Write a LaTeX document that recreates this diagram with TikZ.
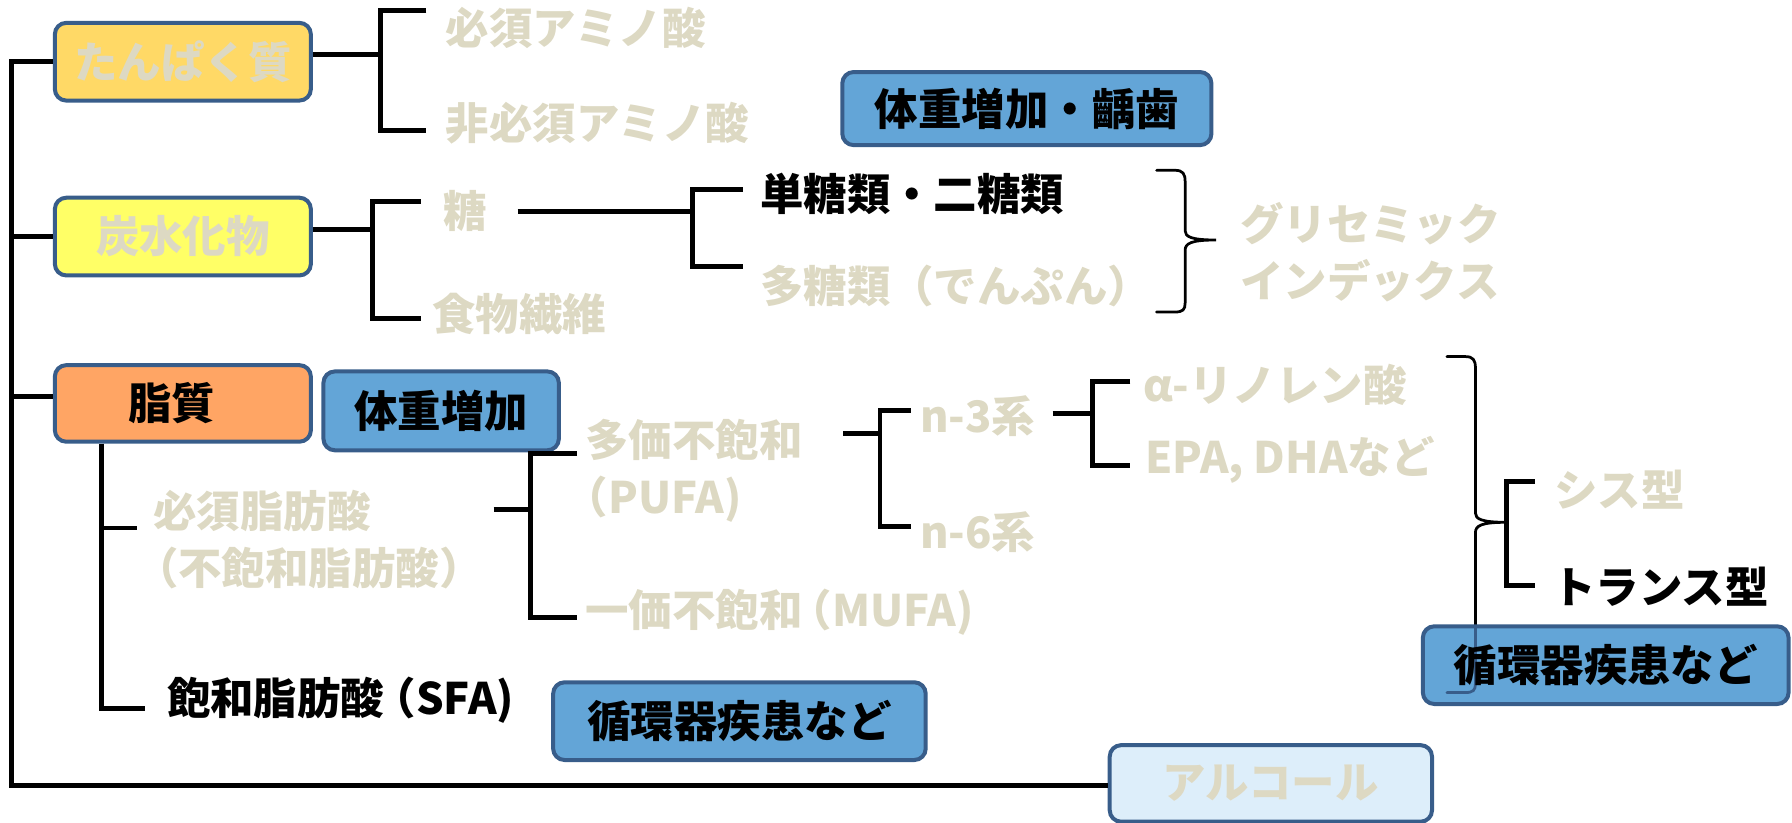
\documentclass[tikz,border=0pt]{standalone}
\usepackage{fontspec}
\setmainfont{Noto Sans CJK JP}
\definecolor{greytxt}{RGB}{221,217,195}
\definecolor{tanfill}{RGB}{255,217,102}
\definecolor{yelfill}{RGB}{255,255,102}
\definecolor{orafill}{RGB}{255,165,100}
\definecolor{bluefill}{RGB}{99,165,215}
\definecolor{alcfill}{RGB}{221,238,250}
\definecolor{bordc}{RGB}{56,93,138}
\tikzset{
  box/.style={draw=bordc, line width=3.5pt, rounded corners=10pt, inner sep=0pt, font=\fontsize{38}{50}\selectfont\bfseries},
  lbl/.style={anchor=west, inner sep=0pt, align=left, font=\fontsize{38}{50}\selectfont\bfseries, text=greytxt},
  blk/.style={lbl, text=black},
  br/.style={line width=4.3pt, line cap=butt, line join=miter},
  brace/.style={line width=2.4pt, line cap=round}
}
\begin{document}
\begin{tikzpicture}[x=1pt,y=-1pt]
\useasboundingbox (0,0) rectangle (1568,720);
% main boxes
\node[box, fill=tanfill, minimum width=224pt, minimum height=68pt, text=greytxt] (tanpaku) at (160,54) {たんぱく質};
\node[box, fill=yelfill, minimum width=224pt, minimum height=68pt, text=greytxt] (tansui) at (160,207) {炭水化物};
\node[box, fill=orafill, minimum width=224pt, minimum height=67pt, text=black] (shishitsu) at (160,353) {脂質\hspace*{20pt}};
\node[box, fill=alcfill, minimum width=282pt, minimum height=67pt, text=greytxt] (alcohol) at (1112,685.5) {アルコール};
% blue boxes
\node[box, fill=bluefill, minimum width=323pt, minimum height=64pt] (taiju1) at (898.5,95) {体重増加・齲歯};
\node[box, fill=bluefill, minimum width=206pt, minimum height=69pt] (taiju2) at (386,359.5) {体重増加};
\node[box, fill=bluefill, minimum width=326pt, minimum height=68pt] (junkan1) at (647,631) {循環器疾患など};
% labels
\node[lbl] (hissu) at (390,24) {必須アミノ酸};
\node[lbl] (hihissu) at (390,108) {非必須アミノ酸};
\node[lbl] (tou) at (388,185) {糖};
\node[lbl] (shokumotsu) at (378,275) {食物繊維};
\node[blk] (tantou) at (665,170) {単糖類・二糖類};
\node[lbl] (tatou) at (665,250) {多糖類（でんぷん）};
\node[lbl] (gi) at (1085,221) {グリセミック\\インデックス};
\node[lbl] (hissushibou) at (134,472) {必須脂肪酸\\\hspace*{-16pt}（不飽和脂肪酸）};
\node[lbl] (taka) at (512,412) {多価不飽和\\\hspace*{-18pt}（PUFA)};
\node[lbl] (ikka) at (512,536) {一価不飽和\hspace*{-12pt}（MUFA)};
\node[lbl] (n3) at (805,364) {n-3系};
\node[lbl] (n6) at (805,466) {n-6系};
\node[lbl] (alpha) at (1000,337) {α-リノレン酸};
\node[lbl] (epa) at (1002,402) {EPA, DHAなど};
\node[lbl] (cis) at (1360,428) {シス型};
\node[blk] (trans) at (1358,513) {トランス型};
\node[blk] (sfa) at (146,613) {飽和脂肪酸\hspace*{-10pt}（SFA)};
% trunk
\coordinate (trunktop) at (10,54);
\coordinate (trunkbot) at (10,687);
\draw[br] (tanpaku.west) -- (trunktop) -- (trunkbot) -- (alcohol.west |- trunkbot);
\draw[br] (tansui.west) -- (tansui.west -| trunktop);
\draw[br] ([yshift=6pt]shishitsu.west) -- ([yshift=6pt]shishitsu.west -| trunktop);
% protein bracket
\coordinate (b1m) at (333,48);
\coordinate (b1t) at (373,9);
\coordinate (b1b) at (373,114);
\draw[br] (tanpaku.east |- b1m) -- (b1m);
\draw[br] (b1t) -- (b1t -| b1m) -- (b1b -| b1m) -- (b1b);
% carb bracket
\coordinate (b2m) at (326,201);
\coordinate (b2t) at (368,176);
\coordinate (b2b) at (368,279);
\draw[br] (tansui.east |- b2m) -- (b2m);
\draw[br] (b2t) -- (b2t -| b2m) -- (b2b -| b2m) -- (b2b);
% sugar bracket
\coordinate (b3s) at (453,185);
\coordinate (b3m) at (606,185);
\coordinate (b3t) at (650,166);
\coordinate (b3b) at (650,233);
\draw[br] (b3s) -- (b3m);
\draw[br] (b3t) -- (b3t -| b3m) -- (b3b -| b3m) -- (b3b);
% GI brace
\draw[brace] (1012,149) -- (1028,149) .. controls (1035,149) and (1037,152) .. (1037,159) -- (1037,202) .. controls (1037,207) and (1042,210) .. (1064,210) .. controls (1042,210) and (1037,213) .. (1037,219) -- (1037,265) .. controls (1037,271) and (1035,273) .. (1028,273) -- (1012,273);
% fat branch
\coordinate (f1) at (89,620);
\coordinate (f1a) at (120,462);
\coordinate (f1b) at (127,620);
\draw[br] (shishitsu.south -| f1) -- (f1) -- (f1b);
\draw[br] (f1a -| f1) -- (f1a);
% essential fatty acid bracket
\coordinate (b4s) at (432,446);
\coordinate (b4m) at (464,446);
\coordinate (b4t) at (505,397);
\coordinate (b4b) at (505,540);
\draw[br] (b4s) -- (b4m);
\draw[br] (b4t) -- (b4t -| b4m) -- (b4b -| b4m) -- (b4b);
% PUFA bracket
\coordinate (b5s) at (738,379);
\coordinate (b5m) at (770,379);
\coordinate (b5t) at (797,359);
\coordinate (b5b) at (797,461);
\draw[br] (b5s) -- (b5m);
\draw[br] (b5t) -- (b5t -| b5m) -- (b5b -| b5m) -- (b5b);
% n-3 bracket
\coordinate (b6s) at (921,362);
\coordinate (b6m) at (956,362);
\coordinate (b6t) at (989,334);
\coordinate (b6b) at (989,407);
\draw[br] (b6s) -- (b6m);
\draw[br] (b6t) -- (b6t -| b6m) -- (b6b -| b6m) -- (b6b);
% big brace
\draw[brace] (1266,312) -- (1282,312) .. controls (1289,312) and (1291,315) .. (1291,322) -- (1291,449) .. controls (1291,454) and (1296,457) .. (1318,457) .. controls (1296,457) and (1291,460) .. (1291,466) -- (1291,560);
% cis/trans bracket
\coordinate (b7m) at (1318,457);
\coordinate (b7t) at (1343,421);
\coordinate (b7b) at (1343,512);
\draw[br] (b7t) -- (b7t -| b7m) -- (b7b -| b7m) -- (b7b);
% right blue box, brace end seen through it
\node[box, fill=bluefill, minimum width=320pt, minimum height=68pt] (junkan2) at (1405,582) {};
\draw[brace, draw=bordc] (1291,549) -- (1291,598) .. controls (1291,604) and (1289,606) .. (1282,606) -- (1266,606);
\node[font=\fontsize{38}{50}\selectfont\bfseries, inner sep=0pt] (junkan2t) at (junkan2.center) {循環器疾患など};
\end{tikzpicture}
\end{document}
